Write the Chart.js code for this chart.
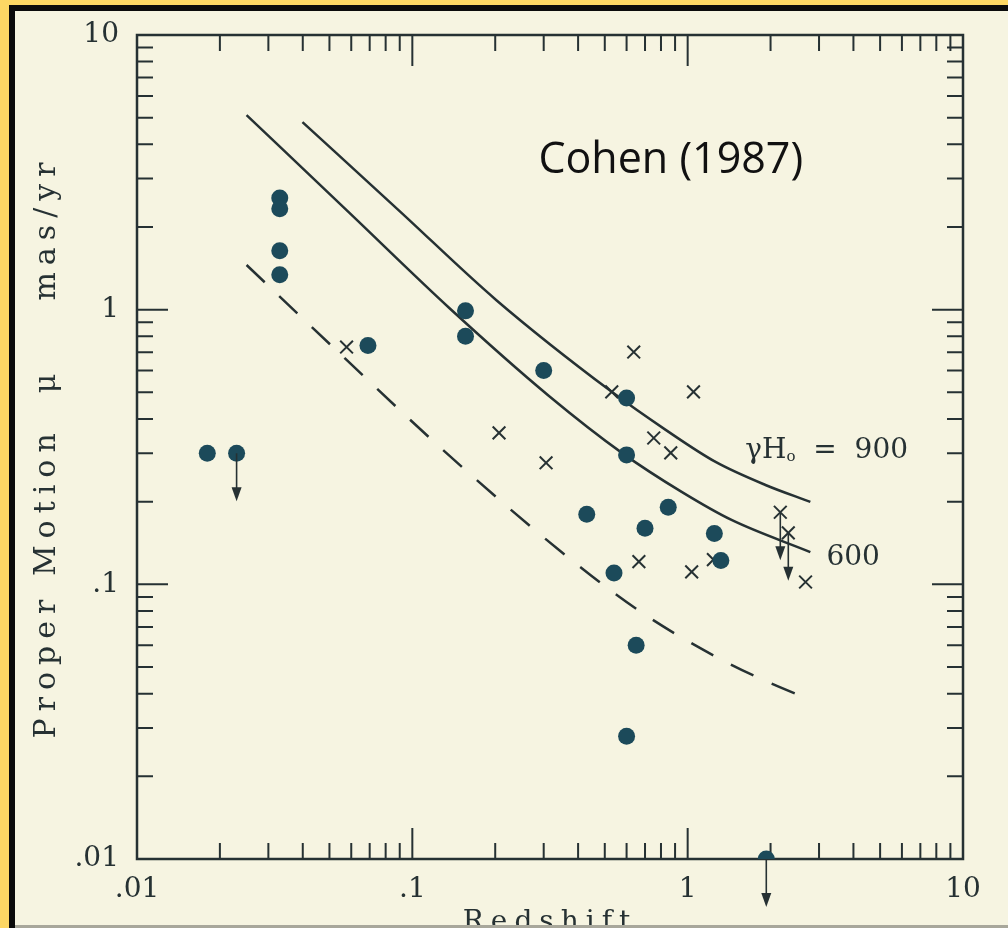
<!DOCTYPE html>
<html>
<head>
<meta charset="utf-8">
<script src="https://cdn.jsdelivr.net/npm/chart.js@4.4.1/dist/chart.umd.min.js"></script>
<style>
  html, body { margin: 0; padding: 0; }
  body { width: 1008px; height: 928px; background: #fdd764; overflow: hidden; position: relative; }
  #frame { position: absolute; left: 9px; top: 5px; width: 999px; height: 923px; background: #0b0b0b; }
  #paper { position: absolute; left: 15px; top: 11px; width: 993px; height: 917px; background: #f6f4e1; }
  #edge { position: absolute; left: 15px; top: 925px; width: 993px; height: 3px; background: #a8a79b; }
  canvas { display: block; }
</style>
</head>
<body>
<div id="frame"></div>
<div id="paper"><canvas id="chart" width="993" height="917"></canvas></div>
<div id="edge"></div>
<script>
// filled circles
const dotX = [0.018, 0.023, 0.033, 0.033, 0.033, 0.033, 0.069, 0.156, 0.156, 0.30, 0.43,
              0.54, 0.60, 0.60, 0.70, 0.85, 1.25, 1.32, 0.65, 0.60, 1.93];
const dotY = [0.30, 0.30, 2.55, 2.33, 1.64, 1.34, 0.74, 0.99, 0.80, 0.60, 0.18,
              0.11, 0.477, 0.296, 0.160, 0.191, 0.153, 0.122, 0.060, 0.028, 0.01];
// crosses
const crossX = [0.0577, 0.637, 1.05, 0.53, 0.2065, 0.306, 0.753, 0.868, 0.665, 1.034, 1.24, 2.17, 2.32, 2.68];
const crossY = [0.731, 0.701, 0.502, 0.502, 0.356, 0.277, 0.341, 0.301, 0.121, 0.111, 0.123, 0.183, 0.154, 0.102];
// upper limits (arrows)
const dotLimitX = [0.023, 1.93];
const dotLimitY = [0.30, 0.01];
const crossLimitX = [2.17, 2.32];
const crossLimitY = [0.183, 0.154];
// model curves
const curve900X = [0.0399, 0.0897, 0.2015, 0.530, 0.832, 1.263, 1.917, 2.79];
const curve900Y = [4.82, 2.29, 1.085, 0.502, 0.365, 0.279, 0.230, 0.1995];
const curve600X = [0.025, 0.0591, 0.1362, 0.3135, 0.577, 0.951, 1.443, 2.79];
const curve600Y = [5.11, 2.25, 1.014, 0.485, 0.301, 0.217, 0.1715, 0.131];
const dashedX = [0.025, 0.0567, 0.1328, 0.341, 0.676, 1.373, 2.0, 2.81];
const dashedY = [1.454, 0.667, 0.301, 0.1334, 0.0793, 0.0522, 0.0437, 0.0379];
// tick labels
const xTickValues = [0.01, 0.1, 1, 10];
const xTickLabels = ['.01', '.1', '1', '10'];
const yTickValues = [0.01, 0.1, 1, 10];
const yTickLabels = ['.01', '.1', '1', '10'];

const INK = '#263133';
const DOT = '#1c4a5a';
const SERIF = "'DejaVu Serif', serif";

function pts(xs, ys) {
  return xs.map((x, i) => ({ x: x, y: ys[i] }));
}

function decadeLabel(values, labels) {
  return function (value) {
    const i = values.findIndex(t => Math.abs(Math.log10(t) - Math.log10(value)) < 1e-6);
    return i >= 0 ? labels[i] : '';
  };
}

// typewriter spacing for the axis titles (drawn in the grid layer), reset before datasets
const spacing = {
  id: 'spacing',
  beforeDraw(chart) { chart.ctx.letterSpacing = '7px'; },
  beforeDatasetsDraw(chart) { chart.ctx.letterSpacing = '0px'; }
};

// frame and inward ticks on all four sides
const paperAxes = {
  id: 'paperAxes',
  beforeDatasetsDraw(chart) {
    const { ctx, chartArea: a, scales: { x, y } } = chart;
    ctx.save();
    ctx.strokeStyle = INK;
    ctx.lineWidth = 2.5;
    ctx.strokeRect(a.left, a.top, a.right - a.left, a.bottom - a.top);
    ctx.lineWidth = 2;
    ctx.beginPath();
    for (let e = -2; e <= 0; e++) {
      for (let s = 1; s <= 9; s++) {
        const v = s * Math.pow(10, e);
        const len = s === 1 ? 31 : 16;
        const px = x.getPixelForValue(v);
        ctx.moveTo(px, a.bottom); ctx.lineTo(px, a.bottom - len);
        ctx.moveTo(px, a.top); ctx.lineTo(px, a.top + len);
        const py = y.getPixelForValue(v);
        ctx.moveTo(a.left, py); ctx.lineTo(a.left + len, py);
        ctx.moveTo(a.right, py); ctx.lineTo(a.right - len, py);
      }
    }
    ctx.stroke();
    ctx.restore();
  }
};

// downward arrows for upper limits
const limitArrows = {
  id: 'limitArrows',
  afterDatasetsDraw(chart) {
    const { ctx, scales: { x, y } } = chart;
    const draw = (xs, ys) => {
      xs.forEach((v, i) => {
        const px = x.getPixelForValue(v);
        const py = y.getPixelForValue(ys[i]);
        const len = 48;
        ctx.beginPath();
        ctx.moveTo(px, py);
        ctx.lineTo(px, py + len - 10);
        ctx.stroke();
        ctx.beginPath();
        ctx.moveTo(px - 5, py + len - 14);
        ctx.lineTo(px + 5, py + len - 14);
        ctx.lineTo(px, py + len);
        ctx.closePath();
        ctx.fill();
      });
    };
    ctx.save();
    ctx.strokeStyle = INK;
    ctx.fillStyle = INK;
    ctx.lineWidth = 1.6;
    draw(dotLimitX, dotLimitY);
    draw(crossLimitX, crossLimitY);
    ctx.restore();
  }
};

// text annotations
const notes = {
  id: 'notes',
  afterDraw(chart) {
    const { ctx, scales: { x, y } } = chart;
    ctx.save();
    ctx.letterSpacing = '0px';
    ctx.textBaseline = 'alphabetic';

    ctx.fillStyle = '#111111';
    ctx.font = "43px 'Open Sans', sans-serif";
    ctx.textAlign = 'center';
    ctx.fillText('Cohen (1987)', x.getPixelForValue(0.868), y.getPixelForValue(3.15));

    ctx.fillStyle = INK;
    ctx.textAlign = 'left';
    let px = x.getPixelForValue(1.62);
    const py = y.getPixelForValue(0.288);
    ctx.font = '28px ' + SERIF;
    ctx.fillText('γH', px, py);
    px += ctx.measureText('γH').width;
    ctx.font = '15px ' + SERIF;
    ctx.fillText('o', px, py + 3);
    px += ctx.measureText('o').width;
    ctx.font = '28px ' + SERIF;
    ctx.fillText('  =  900', px, py);

    ctx.fillText('600', x.getPixelForValue(3.19), y.getPixelForValue(0.118));
    ctx.restore();
  }
};

// fixed axis boxes so the plot area lands where the original frame is
function fixX(scale) {
  scale.height = 69;
  scale.paddingLeft = 0;
  scale.paddingRight = 0;
}
function fixY(scale) {
  scale.width = 122;
  scale.paddingTop = 0;
  scale.paddingBottom = 0;
}

const ctx = document.getElementById('chart').getContext('2d');

new Chart(ctx, {
  type: 'scatter',
  data: {
    datasets: [
      {
        label: 'dots',
        data: pts(dotX, dotY),
        pointStyle: 'circle',
        pointRadius: 8.5,
        pointBackgroundColor: DOT,
        pointBorderWidth: 0
      },
      {
        label: 'crosses',
        data: pts(crossX, crossY),
        pointStyle: 'crossRot',
        pointRadius: 9,
        pointBorderColor: INK,
        pointBorderWidth: 2
      },
      {
        type: 'line',
        label: 'γH0 = 900',
        data: pts(curve900X, curve900Y),
        borderColor: INK,
        borderWidth: 2.5,
        pointRadius: 0,
        cubicInterpolationMode: 'monotone',
        fill: false
      },
      {
        type: 'line',
        label: '600',
        data: pts(curve600X, curve600Y),
        borderColor: INK,
        borderWidth: 2.5,
        pointRadius: 0,
        cubicInterpolationMode: 'monotone',
        fill: false
      },
      {
        type: 'line',
        label: 'dashed',
        data: pts(dashedX, dashedY),
        borderColor: INK,
        borderWidth: 2.5,
        borderDash: [25, 20],
        pointRadius: 0,
        cubicInterpolationMode: 'monotone',
        fill: false
      }
    ]
  },
  options: {
    responsive: false,
    animation: false,
    events: [],
    layout: { padding: { left: 0, top: 24, right: 45, bottom: 0 } },
    plugins: {
      legend: { display: false },
      tooltip: { enabled: false }
    },
    scales: {
      x: {
        type: 'logarithmic',
        min: 0.01,
        max: 10,
        position: 'bottom',
        grid: { display: false, drawTicks: false, z: -1 },
        border: { display: false },
        ticks: {
          z: 1,
          autoSkip: false,
          maxRotation: 0,
          padding: 14,
          color: INK,
          font: { family: SERIF, size: 28 },
          callback: decadeLabel(xTickValues, xTickLabels)
        },
        title: {
          display: true,
          text: 'Redshift',
          color: INK,
          font: { family: SERIF, size: 28 },
          padding: { top: 0, bottom: -12 }
        },
        afterFit: fixX
      },
      y: {
        type: 'logarithmic',
        min: 0.01,
        max: 10,
        position: 'left',
        grid: { display: false, drawTicks: false, z: -1 },
        border: { display: false },
        ticks: {
          z: 1,
          autoSkip: false,
          padding: 18,
          color: INK,
          font: { family: SERIF, size: 28 },
          callback: decadeLabel(yTickValues, yTickLabels)
        },
        title: {
          display: true,
          text: 'Proper Motion  μ    mas/yr',
          color: INK,
          font: { family: SERIF, size: 30 },
          padding: { top: 14, bottom: 0 }
        },
        afterFit: fixY
      }
    }
  },
  plugins: [spacing, paperAxes, limitArrows, notes]
});
</script>
</body>
</html>
